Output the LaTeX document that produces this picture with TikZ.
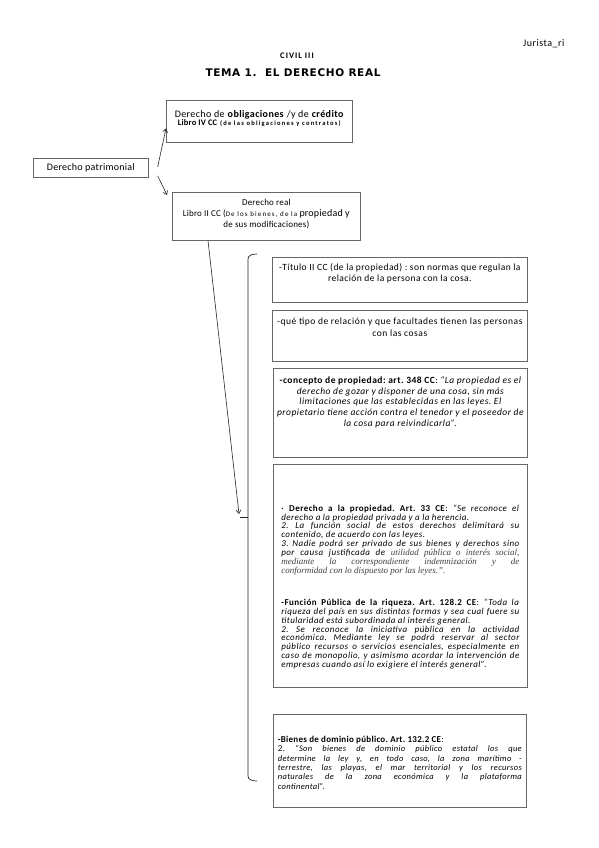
\documentclass[tikz,border=0pt]{standalone}
\usepackage{fontspec}
\setmainfont{Carlito}
\newfontfamily\titlefont{DejaVu Sans}
\newfontfamily\serifit{Liberation Serif}
\usetikzlibrary{arrows.meta,calc}
\setlength{\parindent}{0pt}
\setlength{\parskip}{0pt}
\hyphenpenalty=10000
\exhyphenpenalty=10000
\frenchspacing
\newcommand{\LS}[1]{\addfontfeature{LetterSpace=#1}}
\newlength{\jlw}
\newcommand{\jl}[1]{\hbox to\jlw{\spaceskip=0pt\xspaceskip=0pt\relax #1}}
\begin{document}
\begin{tikzpicture}[x=1pt,y=-1pt,
  box/.style={draw=black!60, line width=0.7pt, fill=white, inner sep=0pt, anchor=north west},
  txt/.style={inner sep=0pt},
  arr/.style={-{Straight Barb[length=3.5pt,width=5pt]}, line width=0.6pt, draw=black!85},
  bracket/.style={line width=0.7pt, draw=black!85}]
\useasboundingbox (0,0) rectangle (599,848);
\fill[white] (0,0) rectangle (599,848);

\node[txt, font=\fontsize{10}{11}\selectfont\LS{5}, anchor=west] (jur) at (523,44) {Jurista\_ri};
\node[txt, font=\bfseries\fontsize{8.5}{10}\selectfont\LS{12}] (civ) at (297,56) {CIVIL III};
\node[txt, font=\titlefont\bfseries\fontsize{10.5}{12}\selectfont\LS{6}] (tema) at (293,73) {TEMA 1.\ \ EL DERECHO REAL};

% left boxes
\node[box, minimum width=115pt, minimum height=19pt, font=\fontsize{10}{11}\selectfont\LS{2.5}] (pat) at (33,158) {Derecho patrimonial};

\node[box, minimum width=186pt, minimum height=42pt] (obl) at (166,100) {};
\node[txt, align=center, anchor=north, font=\fontsize{10}{10}\selectfont\LS{4}] (oblt) at ($(obl.north)+(0,10.3)$)
 {Derecho de \textbf{obligaciones} /y de \textbf{crédito}\\[-2.5pt] {\fontsize{8.5}{10}\selectfont\LS{2}\textbf{Libro IV CC}} {\fontsize{6.5}{7}\selectfont\LS{19}\bfseries (de las obligaciones y contratos)}};

\node[box, minimum width=188pt, minimum height=48pt] (real) at (172,192) {};
\node[txt, align=center, anchor=north, font=\fontsize{9}{11}\selectfont\LS{2}] (realt) at ($(real.north)+(0,7)$)
 {Derecho real\\ Libro II CC ({\fontsize{7}{8}\selectfont\LS{16}De los bienes, de la} {\fontsize{10}{11}\selectfont propiedad y}\\ de sus modificaciones)};

\coordinate (pa) at ($(pat.east)+(9,-1)$);
\coordinate (pb) at ($(pat.east)+(9,8)$);
\draw[arr] (pa) -- ($(obl.west)+(0,7)$);
\draw[arr] (pb) -- ($(real.north west)+(-5,3)$);

% right boxes
\node[box, minimum width=255pt, minimum height=45pt] (tit) at (272,257) {};
\node[txt, align=center, anchor=north, font=\fontsize{9.5}{11}\selectfont\LS{4.5}] (titt) at ($(tit.north)+(0,6.3)$)
 {-Título II CC (de la propiedad) : son normas que regulan la\\ relación de la persona con la cosa.};

\node[box, minimum width=255pt, minimum height=51pt] (que) at (272,310) {};
\node[txt, align=center, anchor=north, font=\fontsize{9.5}{12}\selectfont\LS{5.5}] (quet) at ($(que.north)+(0,7.3)$)
 {-qué tipo de relación y que facultades tienen las personas\\ con las cosas};

\node[box, minimum width=254pt, minimum height=89pt] (con) at (273,368) {};
\node[txt, align=center, anchor=north, font=\fontsize{9.5}{10.7}\selectfont\LS{5}] (cont) at ($(con.north)+(0,8.4)$)
 {\textbf{-concepto de propiedad: art. 348 CC}: {\itshape “La propiedad es el}\\ {\itshape derecho de gozar y disponer de una cosa, sin más}\\ {\itshape limitaciones que las establecidas en las leyes. El}\\ {\itshape propietario tiene acción contra el tenedor y el poseedor de}\\ {\itshape la cosa para reivindicarla”.}};

\node[box, minimum width=254pt, minimum height=223pt] (big) at (273,464) {};
\node[txt, text width=238pt, align=justify, anchor=north, font=\fontsize{9}{8.9}\selectfont\LS{5}] (bigt) at ($(big.north)+(0,38)$)
 {\setlength{\jlw}{238pt}\par
 \jl{· \textbf{Derecho a la propiedad. Art. 33 CE}: \textit{“Se reconoce el}}
 \hbox{\itshape derecho a la propiedad privada y a la herencia.}
 \jl{\itshape 2. La función social de estos derechos delimitará su}
 \hbox{\itshape contenido, de acuerdo con las leyes.}
 \jl{\itshape 3. Nadie podrá ser privado de sus bienes y derechos sino}
 \jl{\itshape por causa justificada de {\serifit\itshape\color{black!75}utilidad pública o interés social,}}
 \jl{\serifit\itshape\color{black!75}mediante la correspondiente indemnización y de}
 \hbox{\serifit\itshape\color{black!75}conformidad con lo dispuesto por las leyes.”.}
 \vspace{23pt}
 \jl{\textbf{-Función Pública de la riqueza. Art. 128.2 CE}: \textit{“Toda la}}
 \jl{\itshape riqueza del país en sus distintas formas y sea cual fuere su}
 \hbox{\itshape titularidad está subordinada al interés general.}
 \jl{\itshape 2. Se reconoce la iniciativa pública en la actividad}
 \jl{\itshape económica. Mediante ley se podrá reservar al sector}
 \jl{\itshape público recursos o servicios esenciales, especialmente en}
 \jl{\itshape caso de monopolio, y asimismo acordar la intervención de}
 \hbox{\itshape empresas cuando así lo exigiere el interés general”.}
 };

\node[box, minimum width=253pt, minimum height=93pt] (bie) at (273,714) {};
\node[txt, text width=244pt, align=justify, anchor=north, font=\fontsize{8.5}{9.3}\selectfont\LS{4}] (biet) at ($(bie.north)+(0,19)$)
 {\setlength{\jlw}{244pt}\par
 \hbox{\fontsize{9}{9.3}\selectfont\LS{3}\textbf{-Bienes de dominio público. Art. 132.2 CE}:}
 \jl{{\fontsize{9}{9.3}\selectfont 2.} \itshape “Son bienes de dominio público estatal los que}
 \jl{\itshape determine la ley y, en todo caso, la zona marítimo -}
 \jl{\itshape terrestre, las playas, el mar territorial y los recursos}
 \jl{\itshape naturales de la zona económica y la plataforma}
 \hbox{\itshape continental”.}
 };

% bracket
\coordinate (bt) at (257,254);
\coordinate (bm) at (240,517);
\coordinate (bb) at (257,781);
\draw[bracket] (bt) to[out=180,in=90] (248,259) -- (248,776) to[out=270,in=180] (bb);
\draw[bracket] (248,517) -- (bm);

\draw[arr] ($(real.south west)+(36,0)$) -- ($(bm)+(-1,-3)$);
\end{tikzpicture}
\end{document}
